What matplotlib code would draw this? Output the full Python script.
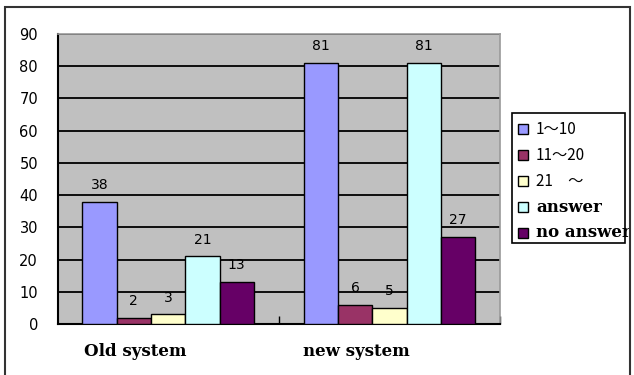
import matplotlib
matplotlib.use('Agg')
import matplotlib.pyplot as plt
import numpy as np
from matplotlib.patches import Rectangle
from matplotlib.transforms import Bbox, TransformedBbox, ScaledTranslation

systems = ['Old system', 'new system']
series_labels = ['1～10', '11～20', '21　～', 'answer', 'no answer']
values = {
    '1～10': [38, 81],
    '11～20': [2, 6],
    '21　～': [3, 5],
    'answer': [21, 81],
    'no answer': [13, 27],
}
colors = ['#9999FF', '#993366', '#FFFFCC', '#CCFFFF', '#660066']
y_ticks = list(range(0, 100, 10))

W, H = 634, 375
SANS = ['Noto Sans CJK JP', 'DejaVu Sans']
SERIF = ['DejaVu Serif']


def fx(x):
    return x / W


def fy(y):
    return 1 - y / H


fig = plt.figure(figsize=(W / 100, H / 100), dpi=100)
fig.patch.set_facecolor('white')
ax = fig.add_axes([fx(57.5), fy(324), fx(500) - fx(57.5), fy(34) - fy(324)])
ax.set_facecolor('#C0C0C0')

x = np.arange(len(systems))
width = 0.155
for i, (label, color) in enumerate(zip(series_labels, colors)):
    pos = x + (i - 2) * width
    bars = ax.bar(pos, values[label], width, color=color, edgecolor='black',
                  linewidth=1.0, zorder=3)
    for b, v in zip(bars, values[label]):
        ax.annotate(str(v), (b.get_x() + b.get_width() / 2, v),
                    xytext=(0, 7), textcoords='offset points',
                    ha='center', va='bottom', fontsize=10,
                    family='DejaVu Sans', zorder=4)

ax.set_xlim(-0.5, len(systems) - 0.5)
ax.set_ylim(0, 90)
ax.set_yticks(y_ticks)
ax.set_yticklabels([str(t) for t in y_ticks], fontsize=10.5,
                   family='DejaVu Sans')
ax.tick_params(axis='y', length=0, pad=14)
ax.yaxis.grid(True, color='black', linewidth=1.3, zorder=1)
ax.set_axisbelow(True)

# category names sit left of the group centre
ax.set_xticks(x)
ax.set_xticklabels(systems, fontsize=12, fontweight='bold', family=SERIF)
ax.tick_params(axis='x', length=0, pad=14)
shift = ScaledTranslation(-33 / 100, 0, fig.dpi_scale_trans)
for t in ax.get_xticklabels():
    t.set_transform(t.get_transform() + shift)

# short inward marks at the category boundaries
ax.set_xticks(list(x[1:] - 0.5) + [x[-1] + 0.5], minor=True)
ax.tick_params(axis='x', which='minor', direction='in', length=6,
               width=1.0, color='black')

for side in ['left', 'bottom']:
    ax.spines[side].set_color('black')
    ax.spines[side].set_linewidth(1.5)
for side in ['top', 'right']:
    ax.spines[side].set_color('#9A9A9A')
    ax.spines[side].set_linewidth(1.2)

# outer chart border (open at the bottom)
fig.add_artist(Rectangle((fx(5), fy(400)), fx(630) - fx(5), fy(7) - fy(400),
                         transform=fig.transFigure, fill=False,
                         edgecolor='#333333', linewidth=1.5, zorder=1))

# legend box drawn by hand so the long label runs past its frame
fig.add_artist(Rectangle((fx(512), fy(243)), fx(625) - fx(512),
                         fy(113) - fy(243), transform=fig.transFigure,
                         facecolor='white', edgecolor='black',
                         linewidth=1.2, zorder=2))
clip = TransformedBbox(Bbox([[0, 0], [fx(629), 1]]), fig.transFigure)
row_y = [129, 155, 181, 207, 233]
for label, color, yy in zip(series_labels, colors, row_y):
    fig.add_artist(Rectangle((fx(518), fy(yy + 5)), fx(10), 10 / H,
                             transform=fig.transFigure, facecolor=color,
                             edgecolor='black', linewidth=1.0, zorder=3))
    if label in ('answer', 'no answer'):
        kw = dict(fontsize=12, fontweight='bold', family=SERIF)
    else:
        kw = dict(fontsize=11, family=SANS)
    t = fig.text(fx(536), fy(yy), label, ha='left', va='center',
                 zorder=4, **kw)
    t.set_clip_box(clip)
    t.set_clip_on(True)

fig.savefig('out.png', dpi=100)
